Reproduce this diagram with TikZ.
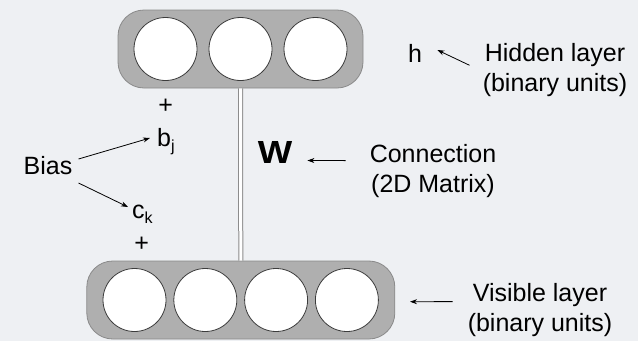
\documentclass[tikz,border=0pt]{standalone}
\usepackage{fontspec}
\setmainfont{Liberation Sans}
\usetikzlibrary{arrows.meta}

\definecolor{bg}{HTML}{EEF0F3}
\definecolor{boxfill}{HTML}{AFAFAF}
\definecolor{boxline}{HTML}{8A8A8A}
\definecolor{unitline}{HTML}{3C3C3C}
\definecolor{wline}{HTML}{8C8C8C}

% subscript set lower and smaller than the main letter
\newcommand{\lowsub}[1]{\raisebox{-5pt}{\fontsize{16}{16}\selectfont #1}}

\tikzset{
  layer/.style={draw=boxline, fill=boxfill, rounded corners=26pt,
                minimum height=78pt, inner sep=0pt, line width=0.8pt},
  unit/.style={circle, draw=unitline, fill=white, minimum size=63pt,
               inner sep=0pt, line width=0.8pt},
  weights/.style={draw=wline, double=white, double distance=3pt, line width=1pt},
  txt/.style={font=\fontsize{25}{30}\selectfont, inner sep=0pt, text=black},
  wfont/.style={font=\fontsize{32}{32}\selectfont\bfseries, inner sep=0pt},
  arr/.style={-{Stealth[length=7pt,width=5pt]}, line width=0.8pt, draw=black}
}

\begin{document}
\begin{tikzpicture}[x=1pt,y=-1pt]
  % canvas
  \fill[bg] (0,0) rectangle (638,341);
  \useasboundingbox (0,0) rectangle (638,341);

  % hidden layer
  \node[layer, minimum width=245pt] (hid) at (240.5,49) {};
  \node[unit] (h1) at (165.5,49) {};
  \node[unit] (h2) at (240.5,49) {};
  \node[unit] (h3) at (315.5,49) {};

  % visible layer
  \node[layer, minimum width=308pt] (vis) at (240.8,300) {};
  \node[unit] (v1) at (134.5,300) {};
  \node[unit] (v2) at (205.3,300) {};
  \node[unit] (v3) at (276.1,300) {};
  \node[unit] (v4) at (346.9,300) {};

  % weight connection between the layers
  \draw[weights] (hid.south) -- (vis.north);

  % biases
  \node[txt] (bias) at (48,166) {Bias};
  \node[txt] (plusb) at (165.7,106.7) {+};
  \node[txt] (plusc) at (141.7,244) {+};
  \node[txt, anchor=base west] (bj) at (157,146) {b\lowsub{j}};
  \node[txt, anchor=base west] (ck) at (132,218) {c\lowsub{k}};
  \draw[arr] ([shift={(6,-7)}]bias.east) -- ([shift={(-7,-8)}]bj.base west);
  \draw[arr] ([shift={(6,17)}]bias.east) -- ([shift={(-4,-11)}]ck.base west);

  % weight matrix
  \node[wfont] (W) at (275,152.5) {\scalebox{1.14}[1]{W}};
  \node[txt, align=center] (conlbl) at (433,170.6) {Connection\\(2D Matrix)};
  \draw[arr] ([shift={(-24,-10)}]conlbl.west) -- ([shift={(15,8)}]W.east);

  % hidden layer label
  \node[txt, anchor=base west] (hlab) at (408,62) {h};
  \node[txt, align=center] (hidlbl) at (555,70.3) {Hidden layer\\(binary units)};
  \draw[arr] ([shift={(-13,-5)}]hidlbl.west) -- ([shift={(15,-12)}]hlab.base east);

  % visible layer label
  \node[txt, align=center] (vislbl) at (540,309.6) {Visible layer\\(binary units)};
  \coordinate (vistip) at (410,301.7);
  \draw[arr] ([shift={(-15,-8)}]vislbl.west) -- (vistip);
\end{tikzpicture}
\end{document}
